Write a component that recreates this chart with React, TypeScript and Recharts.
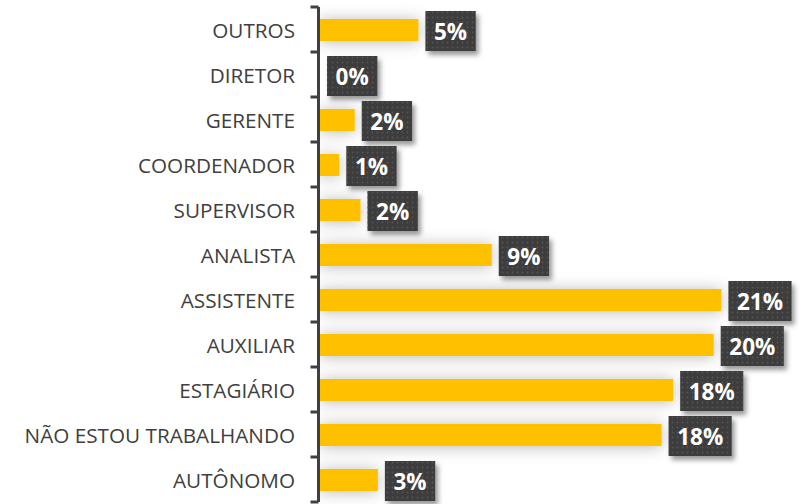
import { BarChart, Bar, XAxis, YAxis, LabelList } from "recharts";

// ocupação atual dos respondentes (% do total)
const categories = [
  "OUTROS",
  "DIRETOR",
  "GERENTE",
  "COORDENADOR",
  "SUPERVISOR",
  "ANALISTA",
  "ASSISTENTE",
  "AUXILIAR",
  "ESTAGIÁRIO",
  "NÃO ESTOU TRABALHANDO",
  "AUTÔNOMO",
];
const shares = [5.1, 0, 1.8, 1.0, 2.1, 8.9, 20.8, 20.4, 18.3, 17.7, 3.0];

const rows = categories.map((name, i) => ({ name, share: shares[i] }));

const W = 801;
const H = 504;
const MARGIN = { top: 7, right: 17.8, bottom: 2, left: 0 };
const AXIS_W = 318.5;
const HALF_BAND = (H - MARGIN.top - MARGIN.bottom) / categories.length / 2;
const INK = "#404040";
const FONT = "'Open Sans', 'DejaVu Sans', sans-serif";

function CategoryTick(props: any) {
  const { x, y, payload, index } = props;
  const last = index === categories.length - 1;
  return (
    <g>
      <text
        x={x - 23.5}
        y={y}
        textAnchor="end"
        dominantBaseline="central"
        fill={INK}
        fontFamily={FONT}
        fontSize={20.7}
      >
        {payload.value}
      </text>
      <line x1={x - 8} x2={x} y1={y - HALF_BAND} y2={y - HALF_BAND} stroke={INK} strokeWidth={3} />
      {last && (
        <line x1={x - 8} x2={x} y1={y + HALF_BAND} y2={y + HALF_BAND} stroke={INK} strokeWidth={3} />
      )}
    </g>
  );
}

function GlowBar(props: any) {
  const { x, y, width, height, fill } = props;
  if (!width) return null;
  return <rect x={x} y={y} width={width} height={height} fill={fill} filter="url(#barGlow)" />;
}

function Badge(props: any) {
  const { x, y, width, height, value } = props;
  const label = `${Math.round(Number(value))}%`;
  const digits = label.length - 1;
  const boxW = 18 + digits * 12.8 + 19.5;
  const boxH = 40;
  const bx = Number(x) + Number(width) + 7;
  const cy = Number(y) + Number(height) / 2 + 1;
  const by = cy - boxH / 2;
  return (
    <g>
      <rect x={bx} y={by} width={boxW} height={boxH} fill="#3c3c3c" filter="url(#badgeShadow)" />
      <rect x={bx} y={by} width={boxW} height={boxH} fill="url(#badgeDots)" />
      <text
        x={bx + boxW / 2}
        y={cy}
        textAnchor="middle"
        dominantBaseline="central"
        fill="#ffffff"
        fontFamily={FONT}
        fontWeight={700}
        fontSize={22.5}
      >
        {label}
      </text>
    </g>
  );
}

export default function App() {
  return (
    <div style={{ position: "absolute", left: 0, top: 0, width: W, height: H, background: "#fff" }}>
      <svg width={0} height={0} style={{ position: "absolute" }}>
        <defs>
          <filter id="barGlow" filterUnits="userSpaceOnUse" x={0} y={0} width={W} height={H}>
            <feDropShadow dx={0} dy={1} stdDeviation={8} floodColor="#000" floodOpacity={0.28} />
          </filter>
          <filter id="badgeShadow" filterUnits="userSpaceOnUse" x={0} y={0} width={W} height={H}>
            <feDropShadow dx={3} dy={4} stdDeviation={2.5} floodColor="#000" floodOpacity={0.4} />
          </filter>
          <pattern id="badgeDots" width={5} height={5} patternUnits="userSpaceOnUse">
            <circle cx={2.5} cy={2.5} r={0.9} fill="#555555" />
          </pattern>
        </defs>
      </svg>
      <BarChart width={W} height={H} data={rows} layout="vertical" margin={MARGIN}>
        <XAxis type="number" hide domain={[-1.5 / 19.3, 24]} allowDataOverflow />
        <YAxis
          type="category"
          dataKey="name"
          width={AXIS_W}
          interval={0}
          axisLine={{ stroke: INK, strokeWidth: 3 }}
          tickLine={false}
          tickSize={0}
          tickMargin={0}
          tick={<CategoryTick />}
        />
        <Bar dataKey="share" fill="#FFC000" barSize={22} shape={<GlowBar />} isAnimationActive={false}>
          <LabelList dataKey="share" content={<Badge />} />
        </Bar>
      </BarChart>
    </div>
  );
}
